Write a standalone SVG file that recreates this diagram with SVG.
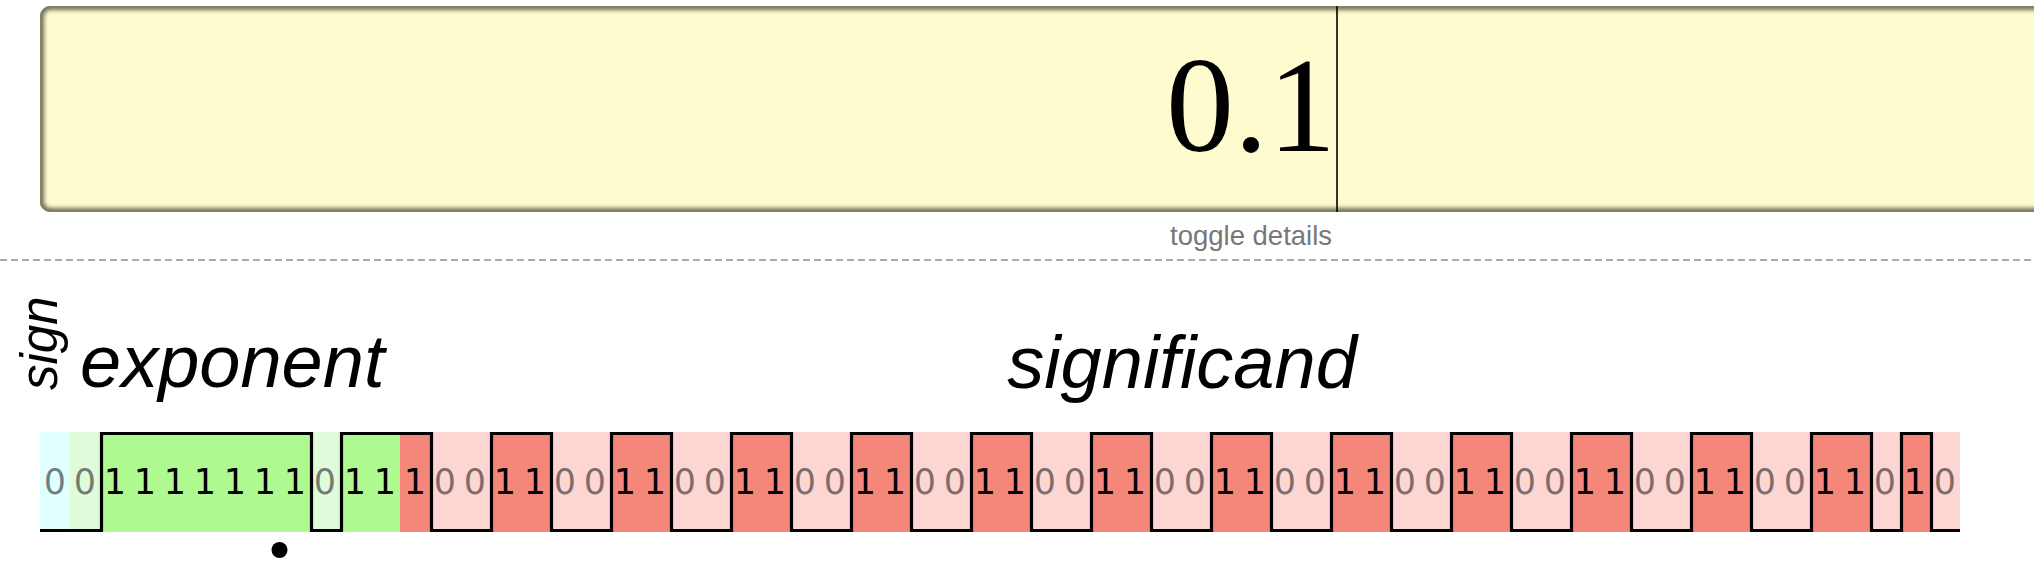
<svg xmlns="http://www.w3.org/2000/svg" width="2034" height="574" viewBox="0 0 2034 574">
<style>
.lbl{font-family:"Liberation Sans",Arial,sans-serif;font-style:italic;fill:#000}
.dg{font-family:"DejaVu Sans",Verdana,sans-serif;font-size:35px;text-anchor:middle}
.d1{fill:#000}
.d0{fill:#000;fill-opacity:0.5}
.sg{fill:#e0ffff}
.e0{fill:#e0fbda}
.e1{fill:#aefa90}
.m0{fill:#fdd6d3}
.m1{fill:#f4867a}
</style>
<defs>
<clipPath id="boxclip"><rect x="40" y="6" width="2100" height="206" rx="10" ry="10"/></clipPath>
<filter id="blur" x="-5%" y="-20%" width="110%" height="140%"><feGaussianBlur stdDeviation="2"/></filter>
</defs>
<rect width="2034" height="574" fill="#fff"/>
<g id="input-box">
<rect x="40" y="6" width="2100" height="206" rx="10" ry="10" fill="#fefccf"/>
<g clip-path="url(#boxclip)">
<rect x="40" y="6" width="2100" height="206" rx="10" ry="10" fill="none" stroke="#6f6d52" stroke-width="8" filter="url(#blur)"/>
</g>
<rect x="40.5" y="6.5" width="2100" height="205" rx="10" ry="10" fill="none" stroke="#858368" stroke-width="1"/>
<text x="1336" y="151" font-family="'Liberation Serif','Times New Roman',serif" font-size="136" text-anchor="end" fill="#000">0.1</text>
<line x1="1337" y1="6" x2="1337" y2="212" stroke="#000" stroke-width="1.6"/>
</g>
<g id="toggle">
<text x="1170" y="245" font-family="'Liberation Sans',Arial,sans-serif" font-size="27.5" fill="#777">toggle details</text>
</g>
<line x1="0" y1="260" x2="2034" y2="260" stroke="#aaa" stroke-width="2" stroke-dasharray="7 4"/>
<g id="labels">
<text class="lbl" font-size="51" transform="translate(57,390) rotate(-90)">sign</text>
<text class="lbl" x="80" y="387" font-size="74">exponent</text>
<text class="lbl" x="1182" y="388" font-size="74" text-anchor="middle">significand</text>
</g>
<g id="bits">
<g id="bit-0"><rect class="sg" x="40" y="432" width="30" height="100"/><text class="dg d0" x="55" y="494">0</text></g>
<g id="bit-1"><rect class="e0" x="70" y="432" width="30" height="100"/><text class="dg d0" x="85" y="494">0</text></g>
<g id="bit-2"><rect class="e1" x="100" y="432" width="30" height="100"/><text class="dg d1" x="115" y="494">1</text></g>
<g id="bit-3"><rect class="e1" x="130" y="432" width="30" height="100"/><text class="dg d1" x="145" y="494">1</text></g>
<g id="bit-4"><rect class="e1" x="160" y="432" width="30" height="100"/><text class="dg d1" x="175" y="494">1</text></g>
<g id="bit-5"><rect class="e1" x="190" y="432" width="30" height="100"/><text class="dg d1" x="205" y="494">1</text></g>
<g id="bit-6"><rect class="e1" x="220" y="432" width="30" height="100"/><text class="dg d1" x="235" y="494">1</text></g>
<g id="bit-7"><rect class="e1" x="250" y="432" width="30" height="100"/><text class="dg d1" x="265" y="494">1</text></g>
<g id="bit-8"><rect class="e1" x="280" y="432" width="30" height="100"/><text class="dg d1" x="295" y="494">1</text></g>
<g id="bit-9"><rect class="e0" x="310" y="432" width="30" height="100"/><text class="dg d0" x="325" y="494">0</text></g>
<g id="bit-10"><rect class="e1" x="340" y="432" width="30" height="100"/><text class="dg d1" x="355" y="494">1</text></g>
<g id="bit-11"><rect class="e1" x="370" y="432" width="30" height="100"/><text class="dg d1" x="385" y="494">1</text></g>
<g id="bit-12"><rect class="m1" x="400" y="432" width="30" height="100"/><text class="dg d1" x="415" y="494">1</text></g>
<g id="bit-13"><rect class="m0" x="430" y="432" width="30" height="100"/><text class="dg d0" x="445" y="494">0</text></g>
<g id="bit-14"><rect class="m0" x="460" y="432" width="30" height="100"/><text class="dg d0" x="475" y="494">0</text></g>
<g id="bit-15"><rect class="m1" x="490" y="432" width="30" height="100"/><text class="dg d1" x="505" y="494">1</text></g>
<g id="bit-16"><rect class="m1" x="520" y="432" width="30" height="100"/><text class="dg d1" x="535" y="494">1</text></g>
<g id="bit-17"><rect class="m0" x="550" y="432" width="30" height="100"/><text class="dg d0" x="565" y="494">0</text></g>
<g id="bit-18"><rect class="m0" x="580" y="432" width="30" height="100"/><text class="dg d0" x="595" y="494">0</text></g>
<g id="bit-19"><rect class="m1" x="610" y="432" width="30" height="100"/><text class="dg d1" x="625" y="494">1</text></g>
<g id="bit-20"><rect class="m1" x="640" y="432" width="30" height="100"/><text class="dg d1" x="655" y="494">1</text></g>
<g id="bit-21"><rect class="m0" x="670" y="432" width="30" height="100"/><text class="dg d0" x="685" y="494">0</text></g>
<g id="bit-22"><rect class="m0" x="700" y="432" width="30" height="100"/><text class="dg d0" x="715" y="494">0</text></g>
<g id="bit-23"><rect class="m1" x="730" y="432" width="30" height="100"/><text class="dg d1" x="745" y="494">1</text></g>
<g id="bit-24"><rect class="m1" x="760" y="432" width="30" height="100"/><text class="dg d1" x="775" y="494">1</text></g>
<g id="bit-25"><rect class="m0" x="790" y="432" width="30" height="100"/><text class="dg d0" x="805" y="494">0</text></g>
<g id="bit-26"><rect class="m0" x="820" y="432" width="30" height="100"/><text class="dg d0" x="835" y="494">0</text></g>
<g id="bit-27"><rect class="m1" x="850" y="432" width="30" height="100"/><text class="dg d1" x="865" y="494">1</text></g>
<g id="bit-28"><rect class="m1" x="880" y="432" width="30" height="100"/><text class="dg d1" x="895" y="494">1</text></g>
<g id="bit-29"><rect class="m0" x="910" y="432" width="30" height="100"/><text class="dg d0" x="925" y="494">0</text></g>
<g id="bit-30"><rect class="m0" x="940" y="432" width="30" height="100"/><text class="dg d0" x="955" y="494">0</text></g>
<g id="bit-31"><rect class="m1" x="970" y="432" width="30" height="100"/><text class="dg d1" x="985" y="494">1</text></g>
<g id="bit-32"><rect class="m1" x="1000" y="432" width="30" height="100"/><text class="dg d1" x="1015" y="494">1</text></g>
<g id="bit-33"><rect class="m0" x="1030" y="432" width="30" height="100"/><text class="dg d0" x="1045" y="494">0</text></g>
<g id="bit-34"><rect class="m0" x="1060" y="432" width="30" height="100"/><text class="dg d0" x="1075" y="494">0</text></g>
<g id="bit-35"><rect class="m1" x="1090" y="432" width="30" height="100"/><text class="dg d1" x="1105" y="494">1</text></g>
<g id="bit-36"><rect class="m1" x="1120" y="432" width="30" height="100"/><text class="dg d1" x="1135" y="494">1</text></g>
<g id="bit-37"><rect class="m0" x="1150" y="432" width="30" height="100"/><text class="dg d0" x="1165" y="494">0</text></g>
<g id="bit-38"><rect class="m0" x="1180" y="432" width="30" height="100"/><text class="dg d0" x="1195" y="494">0</text></g>
<g id="bit-39"><rect class="m1" x="1210" y="432" width="30" height="100"/><text class="dg d1" x="1225" y="494">1</text></g>
<g id="bit-40"><rect class="m1" x="1240" y="432" width="30" height="100"/><text class="dg d1" x="1255" y="494">1</text></g>
<g id="bit-41"><rect class="m0" x="1270" y="432" width="30" height="100"/><text class="dg d0" x="1285" y="494">0</text></g>
<g id="bit-42"><rect class="m0" x="1300" y="432" width="30" height="100"/><text class="dg d0" x="1315" y="494">0</text></g>
<g id="bit-43"><rect class="m1" x="1330" y="432" width="30" height="100"/><text class="dg d1" x="1345" y="494">1</text></g>
<g id="bit-44"><rect class="m1" x="1360" y="432" width="30" height="100"/><text class="dg d1" x="1375" y="494">1</text></g>
<g id="bit-45"><rect class="m0" x="1390" y="432" width="30" height="100"/><text class="dg d0" x="1405" y="494">0</text></g>
<g id="bit-46"><rect class="m0" x="1420" y="432" width="30" height="100"/><text class="dg d0" x="1435" y="494">0</text></g>
<g id="bit-47"><rect class="m1" x="1450" y="432" width="30" height="100"/><text class="dg d1" x="1465" y="494">1</text></g>
<g id="bit-48"><rect class="m1" x="1480" y="432" width="30" height="100"/><text class="dg d1" x="1495" y="494">1</text></g>
<g id="bit-49"><rect class="m0" x="1510" y="432" width="30" height="100"/><text class="dg d0" x="1525" y="494">0</text></g>
<g id="bit-50"><rect class="m0" x="1540" y="432" width="30" height="100"/><text class="dg d0" x="1555" y="494">0</text></g>
<g id="bit-51"><rect class="m1" x="1570" y="432" width="30" height="100"/><text class="dg d1" x="1585" y="494">1</text></g>
<g id="bit-52"><rect class="m1" x="1600" y="432" width="30" height="100"/><text class="dg d1" x="1615" y="494">1</text></g>
<g id="bit-53"><rect class="m0" x="1630" y="432" width="30" height="100"/><text class="dg d0" x="1645" y="494">0</text></g>
<g id="bit-54"><rect class="m0" x="1660" y="432" width="30" height="100"/><text class="dg d0" x="1675" y="494">0</text></g>
<g id="bit-55"><rect class="m1" x="1690" y="432" width="30" height="100"/><text class="dg d1" x="1705" y="494">1</text></g>
<g id="bit-56"><rect class="m1" x="1720" y="432" width="30" height="100"/><text class="dg d1" x="1735" y="494">1</text></g>
<g id="bit-57"><rect class="m0" x="1750" y="432" width="30" height="100"/><text class="dg d0" x="1765" y="494">0</text></g>
<g id="bit-58"><rect class="m0" x="1780" y="432" width="30" height="100"/><text class="dg d0" x="1795" y="494">0</text></g>
<g id="bit-59"><rect class="m1" x="1810" y="432" width="30" height="100"/><text class="dg d1" x="1825" y="494">1</text></g>
<g id="bit-60"><rect class="m1" x="1840" y="432" width="30" height="100"/><text class="dg d1" x="1855" y="494">1</text></g>
<g id="bit-61"><rect class="m0" x="1870" y="432" width="30" height="100"/><text class="dg d0" x="1885" y="494">0</text></g>
<g id="bit-62"><rect class="m1" x="1900" y="432" width="30" height="100"/><text class="dg d1" x="1915" y="494">1</text></g>
<g id="bit-63"><rect class="m0" x="1930" y="432" width="30" height="100"/><text class="dg d0" x="1945" y="494">0</text></g>
</g>
<g id="connectors">
<path fill="none" stroke="#000" stroke-width="3.2" stroke-linejoin="miter" d="M40,530.5 H101.5 V433.5 H311.5 V530.5 H341.5 V433.5 H431.5 V530.5 H491.5 V433.5 H551.5 V530.5 H611.5 V433.5 H671.5 V530.5 H731.5 V433.5 H791.5 V530.5 H851.5 V433.5 H911.5 V530.5 H971.5 V433.5 H1031.5 V530.5 H1091.5 V433.5 H1151.5 V530.5 H1211.5 V433.5 H1271.5 V530.5 H1331.5 V433.5 H1391.5 V530.5 H1451.5 V433.5 H1511.5 V530.5 H1571.5 V433.5 H1631.5 V530.5 H1691.5 V433.5 H1751.5 V530.5 H1811.5 V433.5 H1871.5 V530.5 H1901.5 V433.5 H1931.5 V530.5 H1960"/>
</g>
<g id="point-marker">
<circle cx="279.5" cy="550" r="8" fill="#000"/>
</g>
</svg>
